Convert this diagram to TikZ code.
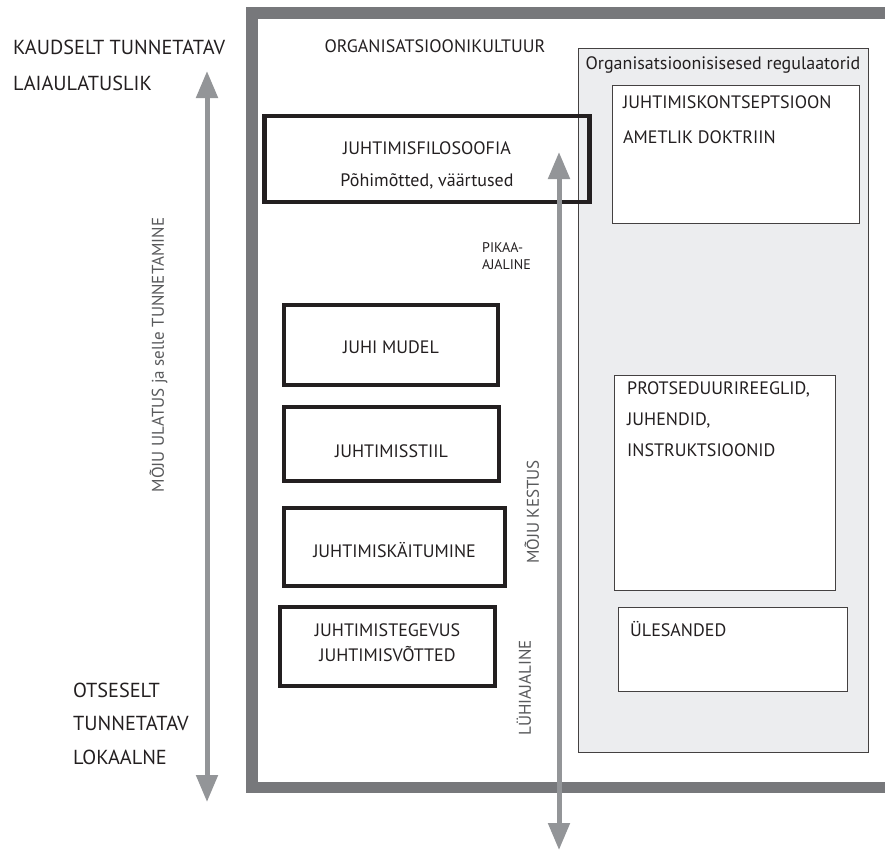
\documentclass[tikz,border=0pt]{standalone}
\usepackage{fontspec}
\setmainfont{PT Sans}
\usepackage{tikz}
\usetikzlibrary{arrows.meta}

\definecolor{framegray}{HTML}{77787B}
\definecolor{arrowgray}{HTML}{939598}
\definecolor{panelgray}{HTML}{ECEDEF}
\definecolor{inkblack}{HTML}{231F20}
\definecolor{sidegray}{HTML}{58595B}

\tikzset{
  heavybox/.style={draw=inkblack, line width=4.5pt},
  thinbox/.style={draw=inkblack!85, line width=1pt, fill=white},
  txt/.style={inner sep=0pt, text height=12.6pt, text depth=0pt, text=inkblack, font=\fontsize{18}{18}\selectfont},
  bigtxt/.style={inner sep=0pt, text height=14.2pt, text depth=0pt, text=inkblack, font=\fontsize{20.3}{20}\selectfont},
  smalltxt/.style={inner sep=0pt, text height=9.8pt, text depth=0pt, text=inkblack, font=\fontsize{14}{14}\selectfont},
  sidetxt/.style={inner sep=0pt, text height=11.9pt, text depth=0pt, text=sidegray, font=\fontsize{17}{17}\selectfont, rotate=90},
  grayarrow/.style={draw=arrowgray, line width=5pt, {Triangle[length=27pt,width=21pt]}-{Triangle[length=27pt,width=21pt]}},
}

\begin{document}
\begin{tikzpicture}[x=10pt, y=-10pt]
        \useasboundingbox (0.0, 0.0) rectangle (88.5, 85.2);

        \draw [framegray, line width=11.5pt] (89.5, 1.3) -- (25.2, 1.3) -- (25.2, 78.75) -- (89.5, 78.75); % organisational frame
        \draw [fill=panelgray, draw=inkblack!85, line width=1pt] (57.8, 4.8) rectangle (86.8, 75.2); % regulators panel

        % regulators
        \draw [thinbox] (61.2, 8.5) rectangle (85.9, 22.3);
        \draw [thinbox] (61.4, 37.5) rectangle (83.5, 59.0);
        \draw [thinbox] (61.8, 60.7) rectangle (84.7, 69.1);

        % management levels
        \draw [heavybox] (26.45, 11.6) rectangle (58.95, 20.2);
        \draw [heavybox] (28.4, 30.5) rectangle (49.8, 38.5);
        \draw [heavybox] (28.4, 40.7) rectangle (49.9, 48.1);
        \draw [heavybox] (28.4, 50.8) rectangle (50.5, 58.6);
        \draw [heavybox] (28.0, 60.7) rectangle (49.5, 68.6);

        \node [txt] (kultuur) at (43.5, 4.6) {ORGANISATSIOONIKULTUUR};
        \node [txt] (regulaatorid) at (72.3, 6.3) {Organisatsioonisisesed regulaatorid};

        \node [txt, anchor=west] (kontseptsioon) at (62.3, 10.2) {JUHTIMISKONTSEPTSIOON};
        \node [txt, anchor=west] (doktriin) at (62.3, 13.7) {AMETLIK DOKTRIIN};
        \node [txt, anchor=west] (protseduurid) at (62.7, 38.8) {PROTSEDUURIREEGLID,};
        \node [txt, anchor=west] (juhendid) at (62.7, 41.9) {JUHENDID,};
        \node [txt, anchor=west] (instruktsioonid) at (62.7, 45.0) {INSTRUKTSIOONID};
        \node [txt, anchor=west] (ulesanded) at (63.0, 63.0) {ÜLESANDED};

        \node [txt] (filosoofia) at (42.7, 14.8) {JUHTIMISFILOSOOFIA};
        \node [txt] (pohimotted) at (42.7, 18.0) {Põhimõtted, väärtused};
        \node [txt] (mudel) at (39.1, 34.7) {JUHI MUDEL};
        \node [txt] (stiil) at (39.15, 45.1) {JUHTIMISSTIIL};
        \node [txt] (kaitumine) at (39.45, 55.1) {JUHTIMISKÄITUMINE};
        \node [txt] (tegevus) at (38.75, 63.0) {JUHTIMISTEGEVUS};
        \node [txt] (votted) at (38.75, 65.5) {JUHTIMISVÕTTED};

        \node [smalltxt, anchor=west] (pikaa) at (48.2, 24.8) {PIKAA-};
        \node [smalltxt, anchor=west] (ajaline) at (48.2, 26.5) {AJALINE};

        \node [bigtxt, anchor=west] (kaudselt) at (1.3, 4.7) {KAUDSELT TUNNETATAV};
        \node [bigtxt, anchor=west] (laiaulatuslik) at (1.3, 8.3) {LAIAULATUSLIK};
        \node [bigtxt, anchor=west] (otseselt) at (7.3, 69.0) {OTSESELT};
        \node [bigtxt, anchor=west] (tunnetatav) at (7.3, 72.3) {TUNNETATAV};
        \node [bigtxt, anchor=west] (lokaalne) at (7.3, 75.7) {LOKAALNE};

        \node [sidetxt] (ulatus) at (15.8, 35.5) {MÕJU ULATUS ja selle TUNNETAMINE};
        \node [sidetxt] (kestus) at (53.3, 51.2) {MÕJU KESTUS};
        \node [sidetxt] (luhiajaline) at (52.5, 68.8) {LÜHIAJALINE};

        % scale arrows
        \coordinate (ulatusTop) at (20.7, 7.1);
        \coordinate (ulatusBottom) at (20.7, 80.2);
        \coordinate (kestusTop) at (55.9, 15.2);
        \coordinate (kestusBottom) at (55.9, 85.0);
        \draw [grayarrow] (ulatusTop) -- (ulatusBottom);
        \draw [grayarrow] (kestusTop) -- (kestusBottom);
\end{tikzpicture}
\end{document}
